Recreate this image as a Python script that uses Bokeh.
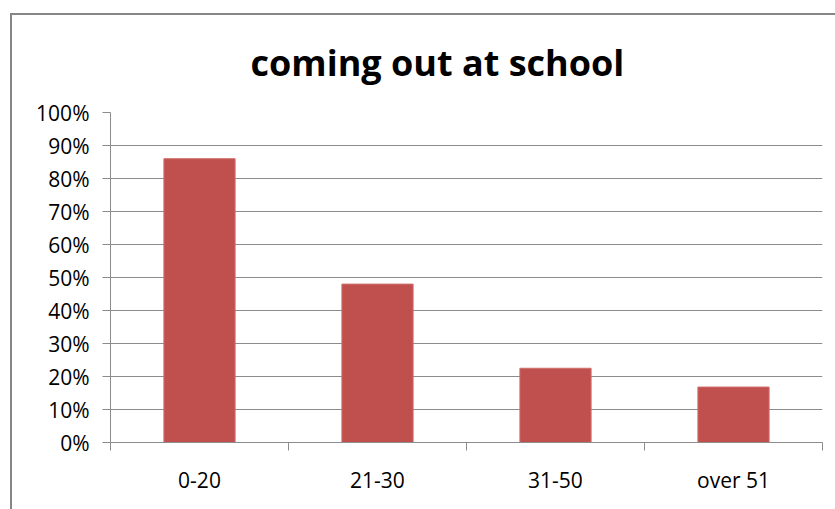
from bokeh.plotting import figure
from bokeh.models import Range1d, FixedTicker, NumeralTickFormatter, ColumnDataSource
from bokeh.embed import file_html
from bokeh.resources import INLINE

title_text = "coming out at school"
categories = ["0-20", "21-30", "31-50", "over 51"]
values = [0.86, 0.48, 0.225, 0.168]
y_ticks = [0, 0.1, 0.2, 0.3, 0.4, 0.5, 0.6, 0.7, 0.8, 0.9, 1.0]

centers = [i + 0.5 for i in range(len(categories))]
boundaries = list(range(len(categories) + 1))

FONT = "Open Sans"
GRID = "#8c8c8c"
BORDER = "#868686"

p = figure(width=835, height=509, output_backend="svg", toolbar_location=None,
           x_range=Range1d(0, len(categories)), y_range=Range1d(0, 1),
           min_border_left=110, min_border_right=13, min_border_top=112,
           min_border_bottom=67)
p.outline_line_color = None
p.background_fill_color = "white"
p.border_fill_color = None
p.styles = {
    "background": (f"linear-gradient({BORDER},{BORDER}) 10px 13px / 3000px 2px no-repeat, "
                   f"linear-gradient({BORDER},{BORDER}) 10px 13px / 2px 3000px no-repeat, white")
}

src = ColumnDataSource(dict(x=centers, top=values))
p.vbar(x="x", top="top", width=0.4, source=src, fill_color="#C0504D",
       line_color="#cf6e6b", line_width=1)

# title
p.title.text = title_text
p.title.align = "left"
p.title.text_font = FONT
p.title.text_font_style = "bold"
p.title.text_font_size = "36px"
p.title.text_color = "#000000"
p.title.offset = 140
p.title.standoff = 51

# y axis
p.yaxis.ticker = FixedTicker(ticks=y_ticks)
p.yaxis.formatter = NumeralTickFormatter(format="0%")
p.yaxis.major_tick_in = 0
p.yaxis.major_tick_out = 8
p.yaxis.minor_tick_line_color = None
p.yaxis.axis_line_color = GRID
p.yaxis.major_tick_line_color = GRID
p.yaxis.major_label_text_font = FONT
p.yaxis.major_label_text_font_size = "21px"
p.yaxis.major_label_text_color = "#000000"
p.yaxis.major_label_standoff = 13

# x axis: labels at category centres, ticks at category boundaries
p.xaxis.ticker = FixedTicker(ticks=centers, minor_ticks=boundaries)
p.xaxis.major_label_overrides = {c: cat for c, cat in zip(centers, categories)}
p.xaxis.major_tick_line_color = None
p.xaxis.major_tick_in = 0
p.xaxis.major_tick_out = 0
p.xaxis.minor_tick_in = 0
p.xaxis.minor_tick_out = 8
p.xaxis.minor_tick_line_color = GRID
p.xaxis.axis_line_color = GRID
p.xaxis.major_label_text_font = FONT
p.xaxis.major_label_text_font_size = "21px"
p.xaxis.major_label_text_color = "#000000"
p.xaxis.major_label_standoff = 15

p.xgrid.grid_line_color = None
p.ygrid.ticker = FixedTicker(ticks=y_ticks)
p.ygrid.grid_line_color = GRID
p.ygrid.grid_line_width = 1

open("out.html", "w").write(file_html(p, INLINE))
